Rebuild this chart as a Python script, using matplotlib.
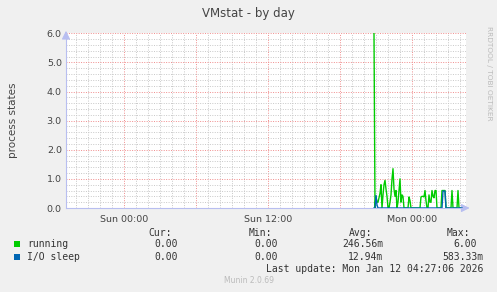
import matplotlib
matplotlib.use("Agg")
import matplotlib.pyplot as plt
import numpy as np
from matplotlib.ticker import MultipleLocator

# ---------------- data ----------------
# time axis in hours relative to Mon 00:00
view_start = -28.8333   # Sat ~19:10
view_end = 4.5          # Mon ~04:30
sample_start = -3.1667  # first sample, Sun ~20:50
sample_step_h = 5 / 60.0

running = [6.0, 0.0, 0.4, 0.2, 0.2, 0.35, 0.5, 0.8, 0.0, 0.45,
           0.8, 0.95, 0.65, 0.4, 0.0, 0.0, 0.2, 0.45, 1.0, 1.35,
           0.65, 0.4, 0.6, 0.0, 0.2, 0.6, 1.0, 0.2, 0.45, 0.4,
           0.0, 0.0, 0.0, 0.0, 0.0, 0.38, 0.25, 0.0, 0.0, 0.0,
           0.0, 0.0, 0.0, 0.0, 0.0, 0.0, 0.0, 0.38, 0.4, 0.4,
           0.38, 0.6, 0.25, 0.0, 0.0, 0.45, 0.2, 0.2, 0.6, 0.4,
           0.35, 0.6, 0.6, 0.0, 0.0, 0.0, 0.0, 0.0, 0.6, 0.6,
           0.6, 0.6, 0.0, 0.0, 0.0, 0.0, 0.0, 0.0, 0.6, 0.0,
           0.0, 0.0, 0.0, 0.0, 0.6, 0.0, 0.0, 0.0, 0.0]
io_sleep = [0.0, 0.0, 0.43, 0.1, 0.0, 0.0, 0.0, 0.0, 0.0, 0.0,
            0.0, 0.0, 0.0, 0.0, 0.0, 0.0, 0.0, 0.0, 0.0, 0.0,
            0.0, 0.0, 0.0, 0.0, 0.0, 0.0, 0.0, 0.0, 0.0, 0.0,
            0.0, 0.0, 0.0, 0.0, 0.0, 0.0, 0.0, 0.0, 0.0, 0.0,
            0.0, 0.0, 0.0, 0.0, 0.0, 0.0, 0.0, 0.0, 0.0, 0.0,
            0.0, 0.0, 0.0, 0.0, 0.0, 0.0, 0.0, 0.0, 0.0, 0.0,
            0.0, 0.0, 0.0, 0.0, 0.0, 0.0, 0.0, 0.0, 0.0, 0.58,
            0.58, 0.58, 0.0, 0.0, 0.0, 0.0, 0.0, 0.0, 0.0, 0.0,
            0.0, 0.0, 0.0, 0.0, 0.0, 0.0, 0.0, 0.0, 0.0]

xtick_pos = [-24, -12, 0]
xtick_labels = ["Sun 00:00", "Sun 12:00", "Mon 00:00"]
ytick_pos = [0, 1, 2, 3, 4, 5, 6]
ytick_labels = ["0.0", "1.0", "2.0", "3.0", "4.0", "5.0", "6.0"]

series_names = ["running", "I/O sleep"]
series_colors = ["#00CC00", "#0066B3"]
cur_vals = ["0.00", "0.00"]
min_vals = ["0.00", "0.00"]
avg_vals = ["246.56m", "12.94m"]
max_vals = ["6.00", "583.33m"]

# ---------------- figure ----------------
W, H = 497, 292
fig = plt.figure(figsize=(W / 100, H / 100), dpi=100, facecolor="#F0F0F0")

def fx(px):
    return px / W

def fy(py):
    return 1 - py / H

left, right, top, bottom = 66, 466, 33.3, 208
ax = fig.add_axes([fx(left), fy(bottom), (right - left) / W, (bottom - top) / H])
ax.set_facecolor("white")

x_hours = sample_start + np.arange(len(running)) * sample_step_h
ax.plot(x_hours, running, color=series_colors[0], lw=1.0, zorder=3)
ax.plot(x_hours, io_sleep, color=series_colors[1], lw=1.0, zorder=4)

ax.set_xlim(view_start, view_end)
ax.set_ylim(0, 6)

# grid: major every 6h / 1.0, minor every 1h / 0.2
ax.xaxis.set_major_locator(MultipleLocator(6))
ax.xaxis.set_minor_locator(MultipleLocator(1))
ax.yaxis.set_major_locator(MultipleLocator(1))
ax.yaxis.set_minor_locator(MultipleLocator(0.2))
ax.grid(which="minor", color="#C8C8C8", lw=0.7, ls=(0, (1, 1.5)), zorder=1)
ax.grid(which="major", color="#F08C8C", lw=0.7, ls=(0, (1, 1.5)), zorder=2)

for s in ["top", "right"]:
    ax.spines[s].set_visible(False)
axis_col = "#B8BEF0"
ax.spines["left"].set_color(axis_col)
ax.spines["bottom"].set_color(axis_col)
ax.spines["left"].set_linewidth(0.8)
ax.spines["bottom"].set_linewidth(0.8)

ax.tick_params(which="both", length=0, colors="#444444")
ax.tick_params(axis="both", which="major", labelsize=6.8, pad=3)

ax.set_xticklabels([])
for xp, lab in zip(xtick_pos, xtick_labels):
    ax.text(xp, -0.25, lab, ha="center", va="top", fontsize=6.8,
            color="#444444", transform=ax.transData)
ax.set_yticks(ytick_pos)
ax.set_yticklabels(ytick_labels)

# arrows on axes
ax.annotate("", xy=(1.016, 0), xytext=(0.99, 0), xycoords="axes fraction",
            arrowprops=dict(arrowstyle="-|>,head_length=0.5,head_width=0.25",
                            color=axis_col, lw=0.8), annotation_clip=False)
ax.annotate("", xy=(0, 1.03), xytext=(0, 0.98), xycoords="axes fraction",
            arrowprops=dict(arrowstyle="-|>,head_length=0.5,head_width=0.25",
                            color=axis_col, lw=0.8), annotation_clip=False)

# title and labels
fig.text(fx(248), fy(13), "VMstat - by day", ha="center", va="center",
         fontsize=8.5, color="#444444")
fig.text(fx(13), fy(120), "process states", ha="center", va="center",
         rotation=90, fontsize=7.5, color="#444444")
fig.text(fx(489), fy(73), "RRDTOOL / TOBI OETIKER", ha="center", va="center",
         rotation=270, fontsize=5.3, color="#BBBBBB")

mono = dict(family="DejaVu Sans Mono", fontsize=7, color="#333333", va="center")
fig.text(fx(172), fy(233), "Cur:", ha="right", **mono)
fig.text(fx(272), fy(233), "Min:", ha="right", **mono)
fig.text(fx(372), fy(233), "Avg:", ha="right", **mono)
fig.text(fx(470), fy(233), "Max:", ha="right", **mono)

row_y = [244.3, 256.7]
max_right = [477, 483]
for i in range(2):
    y = row_y[i]
    fig.patches.append(plt.Rectangle((fx(14), fy(y + 2.8)), 6 / W, 6 / H,
                                     transform=fig.transFigure,
                                     facecolor=series_colors[i], edgecolor="none"))
    fig.text(fx(27), fy(y), series_names[i], ha="left", **mono)
    fig.text(fx(178), fy(y), cur_vals[i], ha="right", **mono)
    fig.text(fx(278), fy(y), min_vals[i], ha="right", **mono)
    fig.text(fx(383), fy(y), avg_vals[i], ha="right", **mono)
    fig.text(fx(max_right[i]), fy(y), max_vals[i], ha="right", **mono)

fig.text(fx(483), fy(268.7), "Last update: Mon Jan 12 04:27:06 2026",
         ha="right", **mono)
fig.text(fx(249), fy(280.7), "Munin 2.0.69", ha="center", va="center",
         fontsize=5.5, color="#BBBBBB")

fig.savefig("out.png", dpi=100, facecolor=fig.get_facecolor())
